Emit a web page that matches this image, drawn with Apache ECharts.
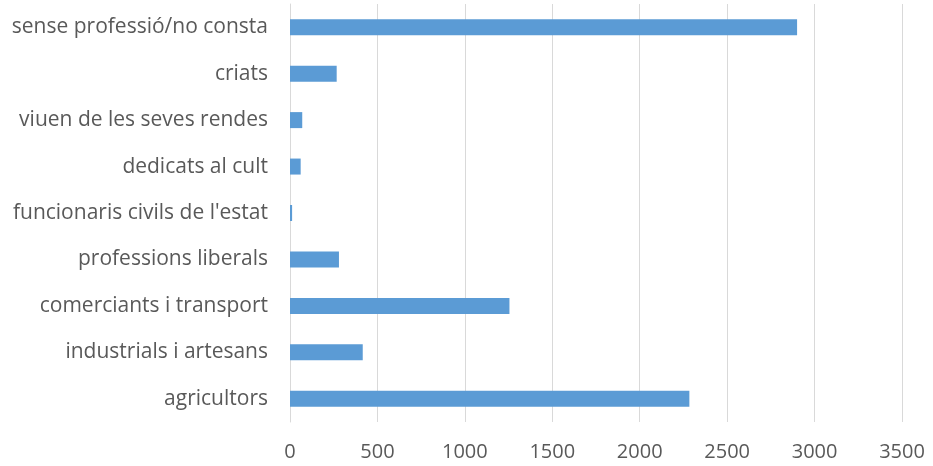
<!DOCTYPE html>
<html><head><meta charset="utf-8">
<script src="https://cdn.jsdelivr.net/npm/echarts@6/dist/echarts.min.js"></script>
<style>html,body{margin:0;padding:0;background:#fff}#c{width:933px;height:466px}</style>
</head><body><div id="c"></div>
<script>
const categories = ["agricultors","industrials i artesans","comerciants i transport","professions liberals","funcionaris civils de l'estat","dedicats al cult","viuen de les seves rendes","criats","sense professió/no consta"];
const values = [2284, 416, 1255, 280, 12, 61, 70, 267, 2900];
const chart = echarts.init(document.getElementById('c'));
chart.setOption({
  animation:false,
  grid:{left:290,right:31,top:4,bottom:44,containLabel:false},
  xAxis:{type:'value',min:0,max:3500,interval:500,
    axisLine:{show:false},axisTick:{show:false},
    axisLabel:{color:'#595959',fontSize:20,fontFamily:'Open Sans',margin:20,formatter:v=>String(v)},
    splitLine:{lineStyle:{color:'#d9d9d9',width:1}}},
  yAxis:{type:'category',data:categories,
    axisLine:{show:true,lineStyle:{color:'#d9d9d9'}},axisTick:{show:false},
    axisLabel:{color:'#595959',fontSize:21,fontFamily:'Open Sans',margin:22}},
  series:[{type:'bar',data:values,barWidth:16,itemStyle:{color:'#5b9bd5'}}]
});
</script></body></html>
